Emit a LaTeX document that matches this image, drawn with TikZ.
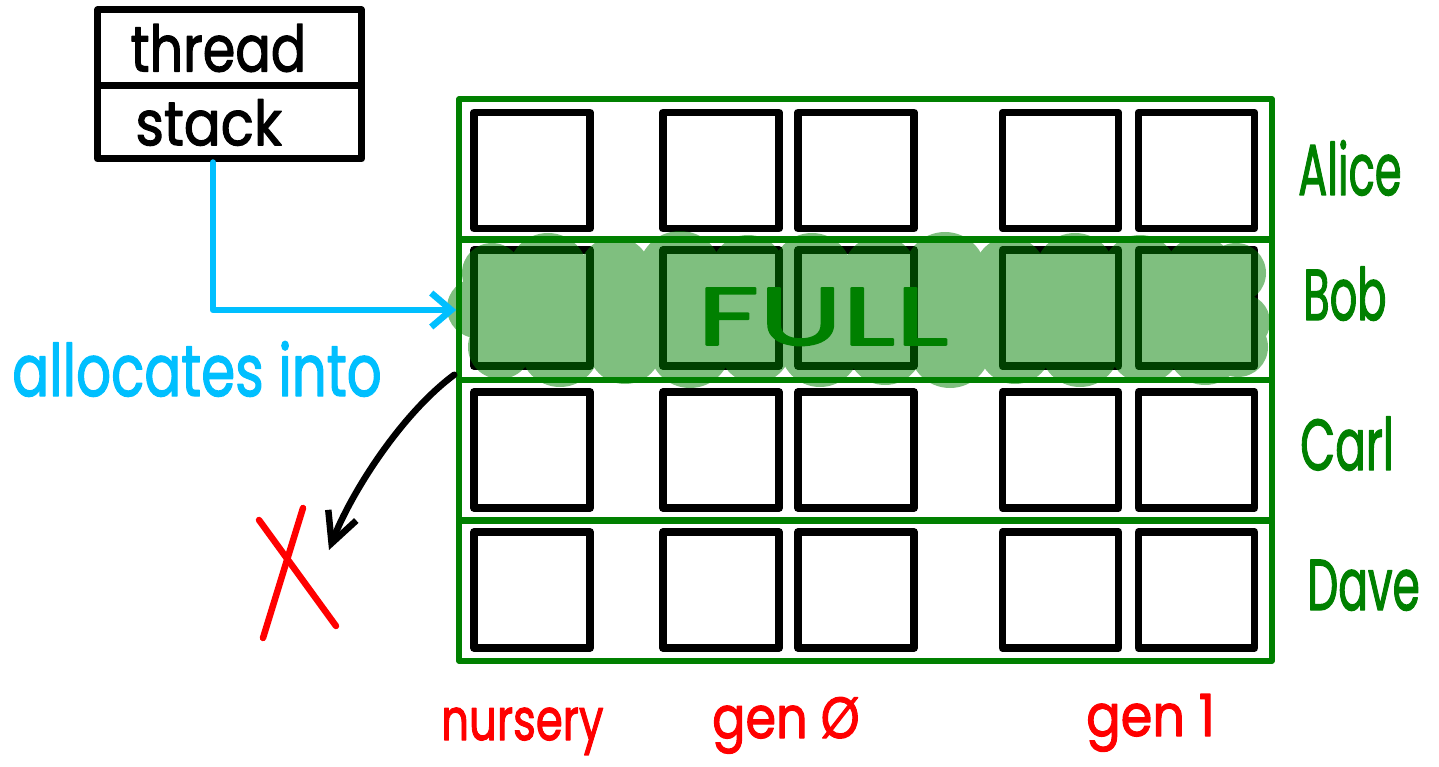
\documentclass[tikz,border=0pt]{standalone}
\usepackage{fontspec}
\usepackage{graphicx}
\setmainfont{Poppins}[FakeBold=2]
\usetikzlibrary{arrows.meta}
\definecolor{skyb}{HTML}{00BFFF}
\definecolor{grn}{HTML}{008000}
\definecolor{rd}{HTML}{FF0000}
\newcommand{\hs}[2]{\scalebox{#1}[1]{#2}}
\begin{document}
\begin{tikzpicture}[x=1pt,y=-1pt,line cap=round,line join=round,
  hwbox/.style={draw=black,line width=7pt,inner ysep=0pt,align=left},
  cellbox/.style={draw=black,line width=7.5pt,minimum width=116pt,minimum height=116pt,inner sep=0pt},
  rowbox/.style={draw=grn,line width=5.5pt,minimum width=813pt,minimum height=140pt,inner sep=0pt},
  personlabel/.style={text=grn,font=\fontsize{72}{80}\selectfont,anchor=base west,inner sep=0pt},
  genlabel/.style={text=rd,font=\fontsize{58}{66}\selectfont,anchor=base west,inner sep=0pt},
  bluearrow/.style={draw=skyb,line width=6.5pt,-{Straight Barb[length=20pt,width=34pt,line width=6.5pt]}},
  blackarrow/.style={draw=black,line width=6.5pt,-{Straight Barb[length=30pt,width=30pt,line width=6.5pt]}},
  xmark/.style={draw=rd,line width=6.5pt},
]
\useasboundingbox (0,0) rectangle (1439,767);

% thread / stack box
\node[hwbox,minimum height=76pt,text width=198pt,inner xsep=33pt,font=\fontsize{64}{70}\selectfont] (thread) at (229.5,48) {\hs{0.82}{thread}};
\node[hwbox,minimum height=73pt,text width=188pt,inner xsep=38pt,font=\fontsize{62}{70}\selectfont] (stack) at (229.5,122.5) {\hs{0.88}{stack}};

% cells
\foreach \r/\ry in {1/170.5,2/308,3/450,4/590}{
  \foreach \c/\cx in {1/532,2/721,3/856,4/1060.5,5/1196.5}{
    \node[cellbox] (cell-\r-\c) at (\cx,\ry) {};
  }
}

% rows
\node[rowbox] (alice) at (865.5,169) {};
\node[rowbox] (bob) at (865.5,310) {};
\node[rowbox] (carl) at (865.5,450) {};
\node[rowbox] (dave) at (865.5,591) {};

% FULL highlight
\begin{scope}[transparency group,opacity=0.5]
  \fill[grn] (480,270) rectangle (1250,350);
  \foreach \x/\r in {492/30,548/40,615/36,680/42,748/38,812/40,880/37,945/41,1010/36,1075/40,1140/38,1200/36,1236/30}{
    \fill[grn] (\x,273) circle (\r pt);
  }
  \foreach \x/\r in {500/32,560/40,625/37,690/41,755/36,820/40,885/38,950/41,1015/37,1080/40,1145/36,1205/38,1238/30}{
    \fill[grn] (\x,347) circle (\r pt);
  }
  \fill[grn] (477,308) circle (30pt);
  \fill[grn] (1242,322) circle (28pt);
\end{scope}
\node[text=grn,font=\fontsize{82}{90}\selectfont,anchor=base west,inner sep=0pt] (full) at (697,345) {\hs{1.5}{FULL}};

% names
\node[personlabel] (alicename) at (1298,195) {\hs{0.6}{Alice}};
\node[personlabel] (bobname) at (1303,320) {\hs{0.6}{Bob}};
\node[personlabel] (carlname) at (1300,470) {\hs{0.63}{Carl}};
\node[personlabel] (davename) at (1307,610) {\hs{0.61}{Dave}};

% generation labels
\node[genlabel] (nursery) at (441,740) {\hs{0.75}{nursery}};
\node[genlabel] (gen0) at (712,738) {\hs{0.85}{gen Ø}};
\node[genlabel] (gen1) at (1086,736) {\hs{0.88}{gen 1}};

% allocates into
\draw[bluearrow] ([xshift=-16.5pt]stack.south) |- (bob.west);
\node[text=skyb,font=\fontsize{72}{80}\selectfont,anchor=base west,inner sep=0pt] (alloc) at (12,396) {\hs{0.76}{allocates into}};

% overflow arrow to X
\coordinate (xtip) at (329,550);
\draw[blackarrow] ([shift={(-2,-8)}]bob.south west) .. controls (400,415) and (350,495) .. (xtip);
\draw[xmark] (303,508) -- (263,638);
\draw[xmark] (259,520) -- (336,626);
\end{tikzpicture}
\end{document}
